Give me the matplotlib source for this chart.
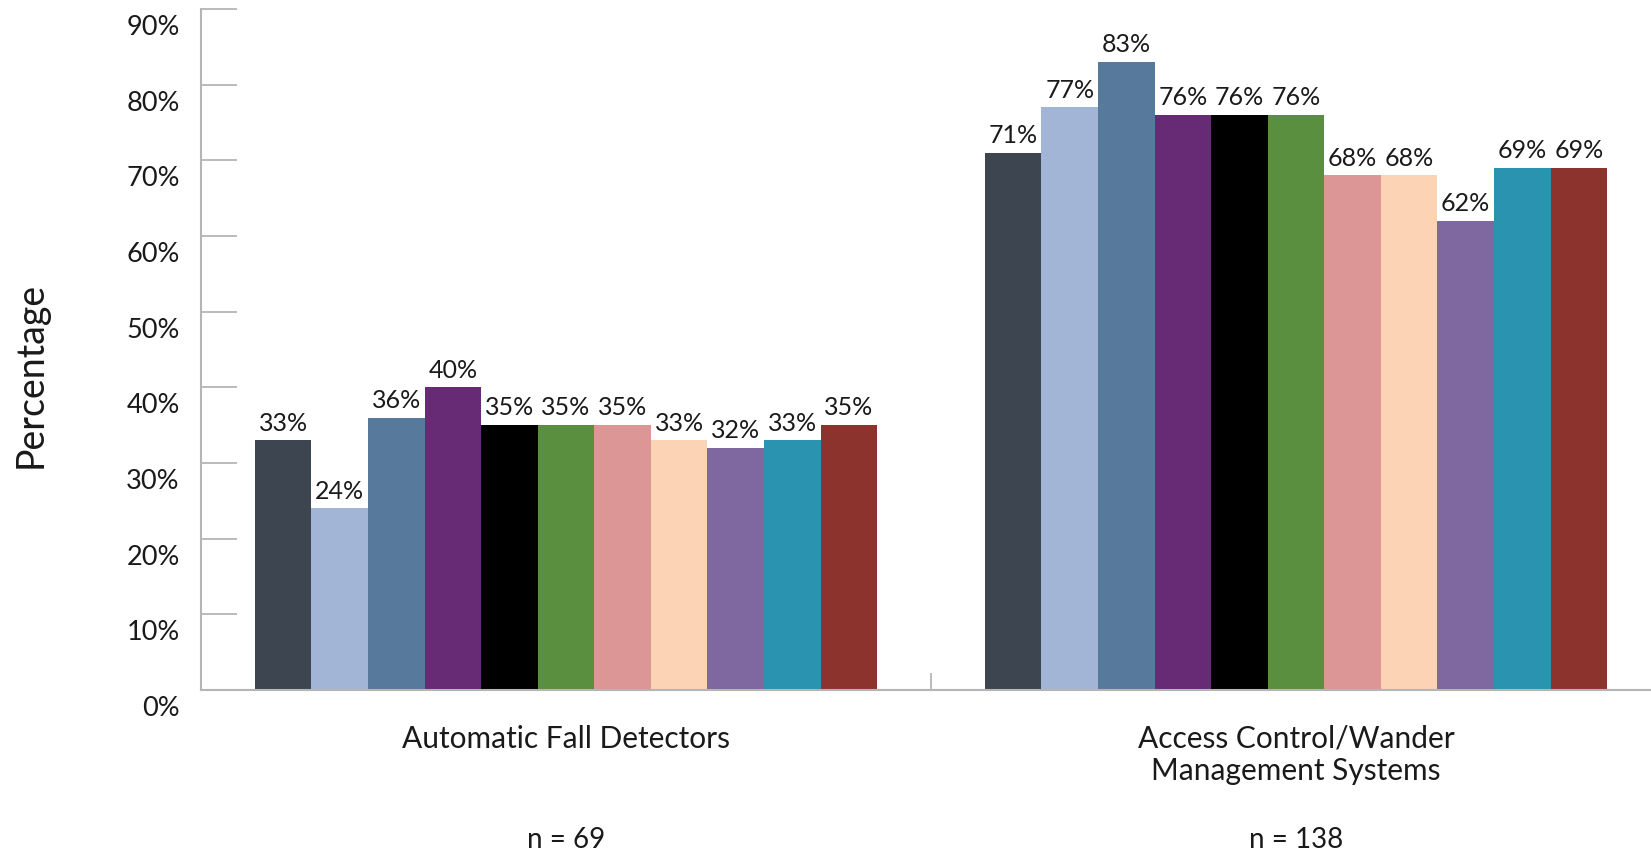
import numpy as np
import matplotlib
matplotlib.use("Agg")
import matplotlib.pyplot as plt
import matplotlib.transforms as mtransforms

plt.rcParams["font.family"] = ["Lato", "DejaVu Sans"]

# Data
categories = ["Automatic Fall Detectors", "Access Control/Wander\nManagement Systems"]
sample_sizes = ["n = 69", "n = 138"]
fall_detectors = [33, 24, 36, 40, 35, 35, 35, 33, 32, 33, 35]
access_control = [71, 77, 83, 76, 76, 76, 68, 68, 62, 69, 69]
bar_colors = [
    "#3D4550", "#A3B5D6", "#57799C", "#672A75", "#000000", "#5A8F3F",
    "#DB9695", "#FCD3B5", "#7F67A0", "#2A93B0", "#8C332D",
]
y_ticks = [0, 10, 20, 30, 40, 50, 60, 70, 80, 90]

values = np.array([fall_detectors, access_control])
n_series = values.shape[1]
bar_w = 0.0775
axis_gray = "#b5b5b5"
text_col = "#1a1a1a"

fig = plt.figure(figsize=(16.51, 8.52), dpi=100)
ax = fig.add_axes([201 / 1651, 162 / 852, 1460 / 1651, 681 / 852])

x = np.arange(len(categories))
for i in range(n_series):
    offs = (i - (n_series - 1) / 2) * bar_w
    bars = ax.bar(x + offs, values[:, i], width=bar_w, color=bar_colors[i],
                  linewidth=0, zorder=2)
    for b, v in zip(bars, values[:, i]):
        ax.annotate(f"{v}%", (b.get_x() + b.get_width() / 2, v),
                    xytext=(0, 7), textcoords="offset points",
                    ha="center", va="baseline", fontsize=18, color=text_col)

ax.set_xlim(-0.5, 1.5)
ax.set_ylim(0, 90)

# y axis: gray stubs pointing into the plot
ax.set_yticks(y_ticks)
ax.set_yticklabels([f"{t}%" for t in y_ticks], fontsize=19.5, color=text_col)
ax.tick_params(axis="y", direction="in", length=26, width=1.3, color=axis_gray, pad=-2)
shift = mtransforms.ScaledTranslation(-24 / 100, -16 / 100, fig.dpi_scale_trans)
for lab in ax.get_yticklabels():
    lab.set_transform(lab.get_transform() + shift)
    lab.set_horizontalalignment("right")

# x axis: category labels, divider tick between groups
ax.set_xticks(x)
ax.set_xticklabels(categories, fontsize=21.5, color=text_col, linespacing=1.2, va="top")
ax.tick_params(axis="x", length=0, pad=25)
ax.set_xticks([0.5], minor=True)
ax.tick_params(axis="x", which="minor", direction="in", length=12, width=1.3, color=axis_gray)

for i, n in enumerate(sample_sizes):
    ax.text(x[i], -0.232, n, transform=ax.get_xaxis_transform(),
            ha="center", va="baseline", fontsize=20, color=text_col)

ax.set_ylabel("Percentage", fontsize=27, color=text_col, va="center")
ax.yaxis.set_label_coords(-0.117, 0.463)

for side in ["top", "right"]:
    ax.spines[side].set_visible(False)
for side in ["left", "bottom"]:
    ax.spines[side].set_color(axis_gray)
    ax.spines[side].set_linewidth(1.5)

fig.savefig("out.png", dpi=100)
